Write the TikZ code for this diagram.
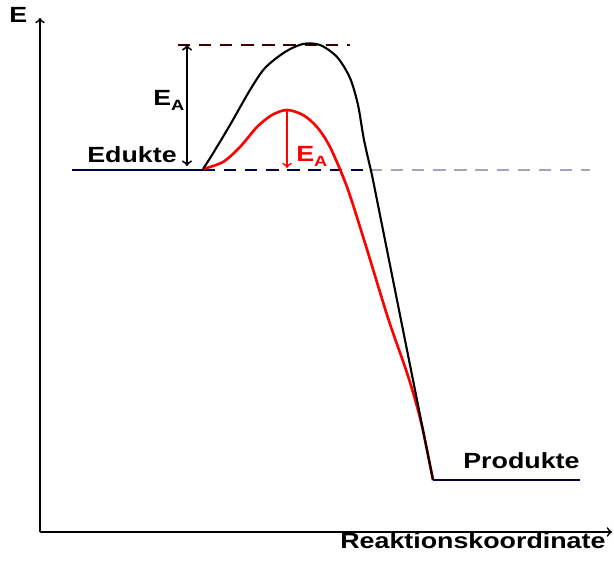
\documentclass[tikz,border=0pt]{standalone}
\usepackage{xcolor}
\usepackage{fontspec}
\newfontfamily\diagfont[FakeStretch=1.22]{Liberation Sans}
\usetikzlibrary{arrows,calc}

\newcommand{\idxA}{\raisebox{-0.4ex}{\fontsize{8.5}{10}\selectfont A}}

\tikzset{
  lbl/.style={font=\diagfont\bfseries\fontsize{12.5}{15}\selectfont, inner sep=0pt, anchor=base west},
  axis/.style={line width=1pt, ->},
  level/.style={line width=1pt, black!75!blue},
  guide/.style={line width=1pt, dash pattern=on 7pt off 5pt},
}

\begin{document}
\begin{tikzpicture}
\useasboundingbox (0,0) rectangle (12.28,11.26);

% axes
\coordinate (O) at (0.8,0.62);
\coordinate (Ytop) at (0.8,10.9);
\coordinate (Xend) at (12.24,0.62);
\draw[axis] (O) -- (Ytop);
\draw[axis] (O) -- (Xend);
\node[lbl] (ylab) at (0.18,10.8) {E};
\node[lbl] (xlab) at (6.8,0.3) {Reaktionskoordinate};

% energy levels
\coordinate (EdL) at (1.44,7.86);
\coordinate (EdR) at (4.06,7.86);
\coordinate (DashMid) at (7.4,7.86);
\coordinate (DashEnd) at (11.8,7.86);
\coordinate (ProdL) at (8.66,1.66);
\coordinate (ProdR) at (11.6,1.66);
\draw[level] (EdL) -- (EdR);
\draw[level] (ProdL) -- (ProdR);
\draw[guide, black!70!blue] (EdR) -- (DashMid);
\draw[guide, blue!20!gray!60] (DashMid) -- (DashEnd);
\node[lbl] (edukte) at (1.74,8.0) {Edukte};
\node[lbl] (produkte) at (9.26,1.9) {Produkte};

% transition state, top
\coordinate (TopL) at (3.56,10.36);
\coordinate (TopR) at (7.0,10.36);
\draw[guide, black!75!red] (TopL) -- (TopR);

% curves
\draw[red, line width=1.5pt] plot[smooth, tension=0.5] coordinates {
  (4.06,7.88) (4.46,8.02) (4.8,8.32) (5.14,8.72) (5.44,8.96) (5.74,9.06)
  (6.06,8.96) (6.34,8.72) (6.6,8.32) (6.94,7.52) (7.3,6.4) (7.76,4.9)
  (8.16,3.74) (8.42,2.82) (8.66,1.66)};
\draw[black, line width=1.2pt] plot[smooth, tension=0.5] coordinates {
  (4.06,7.88) (4.24,8.16) (4.6,8.76) (5.0,9.46) (5.3,9.9) (5.7,10.22)
  (6.06,10.38) (6.4,10.36) (6.74,10.12) (7.0,9.7) (7.16,9.16) (7.28,8.46)
  (7.44,7.76)} -- (ProdL);

% activation energies
\coordinate (EaTop) at (3.74,10.36);
\coordinate (EaBot) at (3.74,7.94);
\draw[line width=1.1pt, <->] (EaTop) -- (EaBot);
\node[lbl] (ea) at (3.06,9.14) {E\idxA};

\coordinate (RedPeak) at (5.74,9.06);
\coordinate (RedBot) at (5.74,7.9);
\draw[red, line width=1pt, ->] (RedPeak) -- (RedBot);
\node[lbl, red] (eared) at (5.92,8.02) {E\idxA};
\end{tikzpicture}
\end{document}
